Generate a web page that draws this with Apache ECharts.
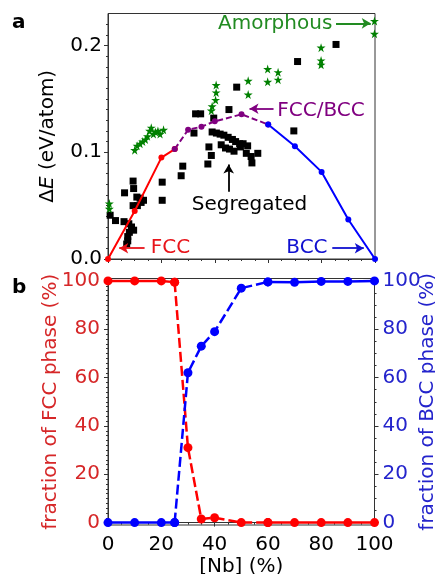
<!DOCTYPE html>
<html>
<head>
<meta charset="utf-8">
<script src="https://cdn.jsdelivr.net/npm/echarts@6/dist/echarts.min.js"></script>
<style>
html, body { margin: 0; padding: 0; background: #fff; }
#chart { width: 435px; height: 574px; }
</style>
</head>
<body>
<div id="chart"></div>
<script>
// panel a: energy of the structures vs Nb content
const fccEnergyX = [0, 10, 20, 25];
const fccEnergy = [0, 0.045, 0.095, 0.103];
const mixEnergyX = [25, 30, 35, 40, 50, 60];
const mixEnergy = [0.103, 0.121, 0.124, 0.129, 0.1355, 0.126];
const bccEnergyX = [60, 70, 80, 90, 100];
const bccEnergy = [0.126, 0.1056, 0.0816, 0.037, 0];

const segregated = [
    [0.8, 0.041], [2.8, 0.036], [6.0, 0.035], [7.8, 0.033], [8.8, 0.030], [9.6, 0.027],
    [8.0, 0.025], [7.4, 0.021], [7.4, 0.017], [7.0, 0.014],
    [6.2, 0.062], [9.4, 0.073], [9.6, 0.066], [10.8, 0.058], [12.0, 0.057], [13.3, 0.055],
    [9.4, 0.050], [11.0, 0.050], [12.4, 0.053],
    [20.3, 0.072], [20.3, 0.055], [27.4, 0.078], [28.0, 0.087],
    [32.2, 0.118], [32.8, 0.136], [34.7, 0.136], [39.6, 0.132], [45.3, 0.140], [48.2, 0.161],
    [37.4, 0.089], [38.7, 0.097], [37.8, 0.105], [39.0, 0.119], [40.6, 0.118], [42.0, 0.117],
    [43.4, 0.116], [45.0, 0.114], [46.6, 0.112], [47.8, 0.110], [49.3, 0.108], [50.6, 0.108],
    [52.3, 0.106], [42.4, 0.107], [44.0, 0.104], [45.5, 0.103], [47.2, 0.101], [49.6, 0.105],
    [51.8, 0.099], [53.6, 0.096], [53.9, 0.090], [56.1, 0.099],
    [69.6, 0.120], [71.0, 0.185], [85.4, 0.201]
];
const amorphous = [
    [0.5, 0.052], [0.5, 0.047],
    [10.0, 0.102], [10.9, 0.106], [12.0, 0.108], [13.0, 0.110], [14.0, 0.112], [14.8, 0.115],
    [15.6, 0.120], [16.2, 0.123], [17.0, 0.117], [17.8, 0.119], [18.7, 0.120], [19.5, 0.117],
    [20.8, 0.121],
    [38.7, 0.139], [39.0, 0.143], [40.3, 0.149], [40.5, 0.156], [40.5, 0.163],
    [52.5, 0.167], [52.5, 0.154],
    [59.8, 0.178], [59.8, 0.166], [63.7, 0.175], [63.7, 0.168],
    [79.8, 0.198], [79.8, 0.186], [79.8, 0.182],
    [99.8, 0.223], [99.8, 0.211]
];

// panel b: phase fractions
const nbPhase = [0, 10, 20, 25, 30, 35, 40, 50, 60, 70, 80, 90, 100];
const fccFraction = [100, 100, 100, 99.5, 31, 1.5, 2, 0, 0, 0, 0, 0, 0];
const bccFraction = [0, 0, 0, 0, 62, 73, 79, 97, 99.6, 99.4, 99.8, 99.8, 100];

const energyTicks = [0, 0.1, 0.2];
const fractionTicks = [0, 20, 40, 60, 80, 100];

// annotations (text, where, colour) and their arrows
const notes = [
    { text: 'Amorphous', at: [62.6, 0.2206], color: '#228b22' },
    { text: 'FCC/BCC', at: [79.8, 0.139], color: '#800080' },
    { text: 'Segregated', at: [53.0, 0.0505], color: '#000' },
    { text: 'FCC', at: [23.4, 0.0103], color: '#e8141a' },
    { text: 'BCC', at: [74.5, 0.0103], color: '#1010d0' }
];
const arrows = [
    { from: [85.4, 0.2208], to: [98.4, 0.2208], color: '#228b22' },
    { from: [62.0, 0.1408], to: [53.0, 0.1408], color: '#800080' },
    { from: [45.2, 0.0629], to: [45.2, 0.0885], color: '#000' },
    { from: [13.7, 0.0101], to: [4.2, 0.0101], color: '#e8141a' },
    { from: [84.0, 0.0101], to: [95.8, 0.0101], color: '#1010d0' }
];

const FONT = 'DejaVu Sans';
const STAR = 'path://M50,0 L61,35 L98,35 L68,57 L79,91 L50,70 L21,91 L32,57 L2,35 L39,35 Z';
const zip = (xs, ys) => xs.map((x, i) => [x, ys[i]]);

const energyMinor = [];
for (let i = 1; i <= 22; i++) if (i % 10) energyMinor.push(i / 100);
const leftMinor = [];
for (let v = 0; v <= 100; v += 2) if (v % 20) leftMinor.push(v);
const rightMinor = [];
for (let v = 0; v <= 100; v += 5) if (v % 20) rightMinor.push(v);

const gridA = { left: 108, top: 13.5, width: 267, height: 245.5, outerBoundsMode: 'none' };
const gridB = { left: 108, top: 278.5, width: 266.5, height: 246.5, outerBoundsMode: 'none' };

const tickStyle = { lineStyle: { color: '#333', width: 1 } };

function lineSeries(data, color, dashed, width, size, x, y) {
    return {
        type: 'line', xAxisIndex: x, yAxisIndex: y, data: data,
        symbol: 'circle', symbolSize: size, showSymbol: true,
        itemStyle: { color: color, opacity: 1 },
        lineStyle: { color: color, width: width, type: dashed ? dashed : 'solid' },
        z: 5, silent: true, animation: false
    };
}

const fccPts = zip(nbPhase, fccFraction);
const bccPts = zip(nbPhase, bccFraction);

const option = {
    animation: false,
    title: [
        { text: 'a', left: 12, top: 13, padding: 0, textStyle: { fontFamily: FONT, fontWeight: 'bold', fontSize: 20, color: '#000' } },
        { text: 'b', left: 12, top: 278, padding: 0, textStyle: { fontFamily: FONT, fontWeight: 'bold', fontSize: 20, color: '#000' } }
    ],
    grid: [
        Object.assign({ show: true, borderColor: '#333', borderWidth: 1 }, gridA),
        Object.assign({ show: true, borderColor: '#333', borderWidth: 1 }, gridB),
        Object.assign({}, gridA),
        Object.assign({}, gridB)
    ],
    xAxis: [
        {
            type: 'value', gridIndex: 0, min: 0, max: 100, interval: 20,
            axisLine: { lineStyle: { color: '#333' } },
            axisTick: Object.assign({ length: 4 }, tickStyle),
            minorTick: { show: true, splitNumber: 4, length: 2, lineStyle: { color: '#333' } },
            axisLabel: { show: false }, splitLine: { show: false }
        },
        {
            type: 'value', gridIndex: 1, min: 0, max: 100, interval: 20,
            name: '[Nb] (%)', nameLocation: 'middle', nameGap: 32, nameMoveOverlap: false,
            nameTextStyle: { fontFamily: FONT, fontSize: 20, color: '#000' },
            axisLine: { lineStyle: { color: '#333' } },
            axisTick: Object.assign({ length: 4 }, tickStyle),
            minorTick: { show: true, splitNumber: 4, length: 2, lineStyle: { color: '#333' } },
            axisLabel: { fontFamily: FONT, fontSize: 20, color: '#000', margin: 10 },
            splitLine: { show: false }
        },
        { type: 'value', gridIndex: 2, min: 0, max: 100, show: false },
        { type: 'value', gridIndex: 3, min: 0, max: 100, show: false }
    ],
    yAxis: [
        {
            type: 'value', gridIndex: 0, min: 0, max: 0.23,
            name: '{g|Δ}{i|E}{g| (eV/atom)}', nameLocation: 'middle', nameGap: 50, nameMoveOverlap: false,
            nameTextStyle: {
                rich: {
                    g: { fontFamily: FONT, fontSize: 20, color: '#000' },
                    i: { fontFamily: FONT, fontSize: 20, color: '#000', fontStyle: 'italic' }
                }
            },
            axisLine: { show: true, lineStyle: { color: '#333' } },
            axisTick: Object.assign({ length: 4, customValues: energyTicks }, tickStyle),
            axisLabel: {
                customValues: energyTicks, formatter: v => v.toFixed(1),
                fontFamily: FONT, fontSize: 20, color: '#000', margin: 6
            },
            splitLine: { show: false }
        },
        {
            type: 'value', gridIndex: 1, min: -1, max: 101, position: 'left',
            name: 'fraction of FCC phase (%)', nameLocation: 'middle', nameGap: 47, nameMoveOverlap: false,
            nameTextStyle: { fontFamily: FONT, fontSize: 20, color: '#d62728' },
            axisLine: { show: true, lineStyle: { color: '#333' } },
            axisTick: Object.assign({ length: 4, customValues: fractionTicks }, tickStyle),
            axisLabel: { customValues: fractionTicks, fontFamily: FONT, fontSize: 20, color: '#d62728', margin: 8 },
            splitLine: { show: false }
        },
        {
            type: 'value', gridIndex: 1, min: -1, max: 101, position: 'right',
            name: 'fraction of BCC phase (%)', nameLocation: 'middle', nameGap: 43, nameMoveOverlap: false,
            nameTextStyle: { fontFamily: FONT, fontSize: 20, color: '#2424cc' },
            axisLine: { show: true, lineStyle: { color: '#333' } },
            axisTick: Object.assign({ length: 4, customValues: fractionTicks }, tickStyle),
            axisLabel: { customValues: fractionTicks, fontFamily: FONT, fontSize: 20, color: '#2424cc', margin: 8 },
            splitLine: { show: false }
        },
        {
            type: 'value', gridIndex: 2, min: 0, max: 0.23, position: 'left',
            axisLine: { show: false }, axisLabel: { show: false }, splitLine: { show: false },
            axisTick: Object.assign({ length: 2, customValues: energyMinor }, tickStyle)
        },
        {
            type: 'value', gridIndex: 3, min: -1, max: 101, position: 'left',
            axisLine: { show: false }, axisLabel: { show: false }, splitLine: { show: false },
            axisTick: Object.assign({ length: 2, customValues: leftMinor }, tickStyle)
        },
        {
            type: 'value', gridIndex: 3, min: -1, max: 101, position: 'right',
            axisLine: { show: false }, axisLabel: { show: false }, splitLine: { show: false },
            axisTick: Object.assign({ length: 2, customValues: rightMinor }, tickStyle)
        }
    ],
    series: [
        {
            name: 'Segregated', type: 'scatter', xAxisIndex: 0, yAxisIndex: 0,
            data: segregated, symbol: 'rect', symbolSize: 7,
            itemStyle: { color: '#000', opacity: 1 }, z: 2, silent: true
        },
        {
            name: 'Amorphous', type: 'scatter', xAxisIndex: 0, yAxisIndex: 0,
            data: amorphous, symbol: STAR, symbolSize: 9,
            itemStyle: { color: '#008000', opacity: 1 }, z: 3, silent: true
        },
        lineSeries(zip(fccEnergyX, fccEnergy), '#ff0000', null, 2, 6, 0, 0),
        lineSeries(zip(mixEnergyX, mixEnergy), '#800080', [6, 3], 2, 6, 0, 0),
        lineSeries(zip(bccEnergyX, bccEnergy), '#0000ff', null, 2, 6, 0, 0),
        {
            name: 'notes', type: 'scatter', xAxisIndex: 0, yAxisIndex: 0,
            data: notes.map(n => ({
                value: n.at, name: n.text,
                label: { color: n.color }
            })),
            symbolSize: 1, itemStyle: { color: 'rgba(0,0,0,0)', opacity: 1 }, z: 10, silent: true,
            label: {
                show: true, position: 'inside', formatter: p => p.name,
                fontFamily: FONT, fontSize: 20, opacity: 1
            },
            markLine: {
                silent: true, animation: false, symbol: ['none', 'arrow'], symbolSize: [8, 9],
                label: { show: false },
                data: arrows.map(a => [
                    { coord: a.from, lineStyle: { color: a.color, width: 1.8, type: 'solid', opacity: 1 } },
                    { coord: a.to }
                ])
            }
        },
        // panel b: solid for the pure phase, dashed across the mixed region
        lineSeries(fccPts.slice(0, 4), '#ff0000', null, 2.5, 9, 1, 1),
        lineSeries(fccPts.slice(3, 9), '#ff0000', [10, 4], 2.5, 9, 1, 1),
        lineSeries(fccPts.slice(8), '#ff0000', null, 2.5, 9, 1, 1),
        lineSeries(bccPts.slice(0, 4), '#0000ff', null, 2.5, 9, 1, 2),
        lineSeries(bccPts.slice(3, 9), '#0000ff', [10, 4], 2.5, 9, 1, 2),
        lineSeries(bccPts.slice(8), '#0000ff', null, 2.5, 9, 1, 2)
    ]
};

const chart = echarts.init(document.getElementById('chart'));
chart.setOption(option);
</script>
</body>
</html>
